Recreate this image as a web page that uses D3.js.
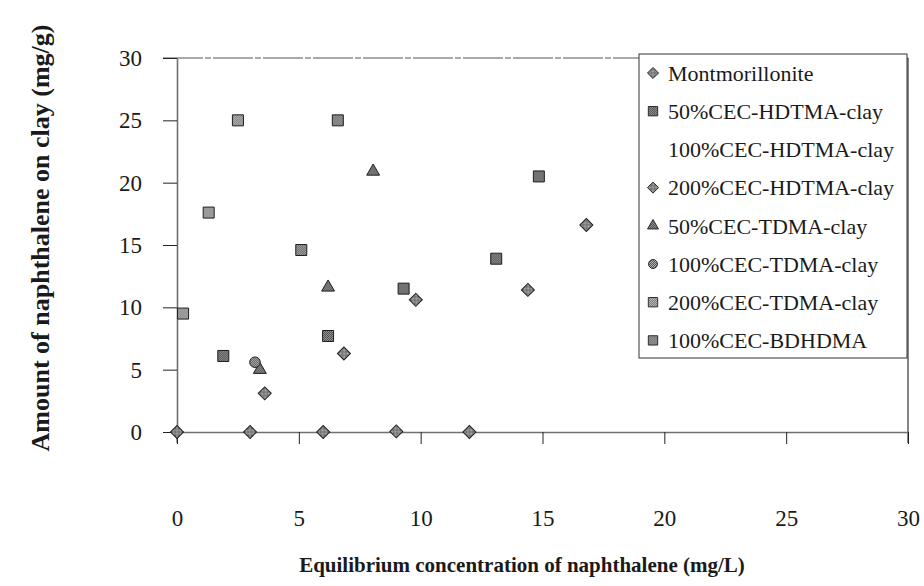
<!DOCTYPE html>
<html><head><meta charset="utf-8">
<script src="https://cdn.jsdelivr.net/npm/d3@7"></script>
<style>body{margin:0;background:#fff}svg{display:block}</style>
</head><body><svg id="c" width="924" height="586"></svg>
<script>
// ---- data ----
const seriesNames = ["Montmorillonite","50%CEC-HDTMA-clay","100%CEC-HDTMA-clay","200%CEC-HDTMA-clay","50%CEC-TDMA-clay","100%CEC-TDMA-clay","200%CEC-TDMA-clay","100%CEC-BDHDMA"];
const montX = [0, 3, 6, 9, 12];
const montY = [0, 0, 0, 0.05, 0];
const hdtma50X = [1.9, 6.2, 9.3, 13.1, 14.85];
const hdtma50Y = [6.1, 7.7, 11.5, 13.9, 20.5];
const hdtma100X = [];
const hdtma100Y = [];
const hdtma200X = [3.6, 6.85, 9.8, 14.4, 16.8];
const hdtma200Y = [3.1, 6.3, 10.6, 11.4, 16.6];
const tdma50X = [3.4, 6.2, 8.05];
const tdma50Y = [5.0, 11.6, 20.9];
const tdma100X = [3.2];
const tdma100Y = [5.6];
const tdma200X = [0.25, 1.3, 2.5];
const tdma200Y = [9.5, 17.6, 25];
const bdhdmaX = [5.1, 6.6];
const bdhdmaY = [14.6, 25];
const xTicks = [0, 5, 10, 15, 20, 25, 30];
const yTicks = [0, 5, 10, 15, 20, 25, 30];

const seriesX = [montX, hdtma50X, hdtma100X, hdtma200X, tdma50X, tdma100X, tdma200X, bdhdmaX];
const seriesY = [montY, hdtma50Y, hdtma100Y, hdtma200Y, tdma50Y, tdma100Y, tdma200Y, bdhdmaY];
const shapes = ["diamond","square",null,"diamond","triangle","circle","square","square"];
const patIds = ["pMid","pDark",null,"pMid","pDark","pMid","pLight","pMid"];

const svg = d3.select("#c");
const serif = "'Liberation Serif','Times New Roman',serif";
const x = d3.scaleLinear().domain([0,30]).range([177,908]);
const y = d3.scaleLinear().domain([0,30]).range([432,58]);

// halftone-like fill patterns
const defs = svg.append("defs");
[["pDark","#4a4a4a","#9a9a9a"],["pMid","#5c5c5c","#b0b0b0"],["pLight","#707070","#c4c4c4"]].forEach(([id,a,b])=>{
  const p = defs.append("pattern").attr("id",id).attr("width",2).attr("height",2).attr("patternUnits","userSpaceOnUse");
  p.append("rect").attr("width",2).attr("height",2).attr("fill",b);
  p.append("rect").attr("width",1).attr("height",1).attr("fill",a);
  p.append("rect").attr("x",1).attr("y",1).attr("width",1).attr("height",1).attr("fill",a);
});

function shapePath(kind, s){
  if(kind==="diamond") return d3.symbol().type(d3.symbolSquare).size(s*s/2)();
  if(kind==="square") return d3.symbol().type(d3.symbolSquare).size(s*s)();
  if(kind==="triangle") return d3.symbol().type(d3.symbolTriangle).size(s*s*0.5)();
  return d3.symbol().type(d3.symbolCircle).size(s*s*0.72)();
}
function shapeRot(kind){ return kind==="diamond" ? " rotate(45)" : ""; }
const markSize = {diamond:13, square:11, triangle:12, circle:11};

// frame: top + right border
svg.append("line").attr("x1",163).attr("x2",x(30)).attr("y1",y(30)).attr("y2",y(30))
  .attr("stroke","#555").attr("stroke-width",1.2).attr("stroke-dasharray","40 2 6 2");
svg.append("line").attr("x1",x(30)).attr("x2",x(30)).attr("y1",y(30)).attr("y2",443)
  .attr("stroke","#333").attr("stroke-width",1.2);

// y axis
const gy = svg.append("g").attr("transform",`translate(${x(0)},0)`)
  .call(d3.axisLeft(y).tickValues(yTicks).tickSize(14).tickSizeOuter(0).tickPadding(21));
gy.select(".domain").attr("stroke","#707070").attr("stroke-width",1.6);
gy.selectAll(".tick line").attr("stroke","#222");
gy.selectAll("text").attr("font-family",serif).attr("font-size",23).attr("fill","#1a1a1a");
svg.append("line").attr("x1",x(0)).attr("x2",x(0)).attr("y1",y(0)).attr("y2",443)
  .attr("stroke","#444").attr("stroke-width",1);

// x axis
const gx = svg.append("g").attr("transform",`translate(0,${y(0)})`)
  .call(d3.axisBottom(x).tickValues(xTicks).tickSize(12).tickSizeOuter(0).tickPadding(66));
gx.select(".domain").attr("stroke","#707070").attr("stroke-width",1.6);
gx.selectAll(".tick line").attr("stroke","#222");
gx.selectAll("text").attr("font-family",serif).attr("font-size",23).attr("fill","#1a1a1a");

// points
seriesNames.forEach((name,i)=>{
  const k = shapes[i];
  if(!k) return;
  const pts = seriesX[i].map((v,j)=>[v, seriesY[i][j]]);
  svg.append("g").selectAll("path").data(pts).join("path")
    .attr("d", shapePath(k, markSize[k]))
    .attr("transform", d=>`translate(${x(d[0])},${y(d[1])})${shapeRot(k)}`)
    .attr("fill", `url(#${patIds[i]})`).attr("stroke","#1e1e1e").attr("stroke-width",1);
});

// legend
const lg = svg.append("g");
const lx0 = 639, ly0 = 54, lx1 = 907, ly1 = 358, row0 = 73, rowH = 38.2;
lg.append("rect").attr("x",lx0).attr("y",ly0).attr("width",lx1-lx0).attr("height",ly1-ly0)
  .attr("fill","#fff").attr("stroke","#333").attr("stroke-width",1);
seriesNames.forEach((name,i)=>{
  const cy = row0 + i*rowH;
  const k = shapes[i];
  if(k) lg.append("path").attr("d", shapePath(k, markSize[k]*0.85))
    .attr("transform",`translate(${lx0+14},${cy})${shapeRot(k)}`)
    .attr("fill",`url(#${patIds[i]})`).attr("stroke","#1e1e1e").attr("stroke-width",0.9);
  lg.append("text").attr("x",lx0+29).attr("y",cy).attr("dy","0.35em")
    .attr("font-family",serif).attr("font-size",22).attr("fill","#1a1a1a").text(name);
});

// axis titles
svg.append("text").attr("x",522).attr("y",572).attr("text-anchor","middle")
  .attr("font-family",serif).attr("font-weight","bold").attr("font-size",21).attr("fill","#1a1a1a")
  .text("Equilibrium concentration of naphthalene (mg/L)");
svg.append("text").attr("transform","translate(49,238) rotate(-90)").attr("text-anchor","middle")
  .attr("font-family",serif).attr("font-weight","bold").attr("font-size",26).attr("fill","#1a1a1a")
  .text("Amount of naphthalene on clay (mg/g)");
</script>
</body></html>
